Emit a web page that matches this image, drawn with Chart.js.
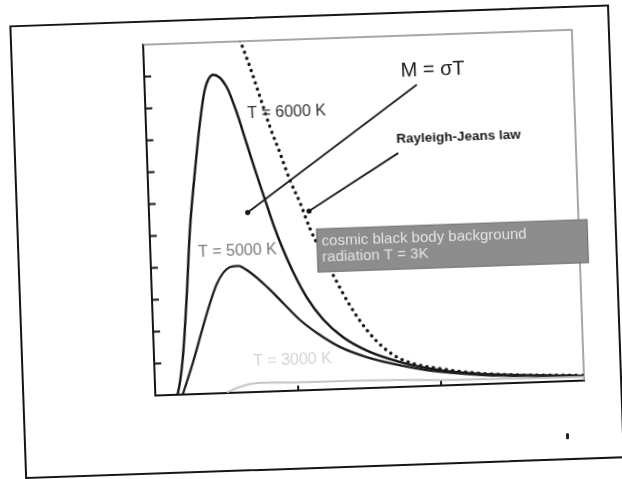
<!DOCTYPE html>
<html>
<head>
<meta charset="utf-8">
<script src="https://cdn.jsdelivr.net/npm/chart.js@4"></script>
<style>
  html, body { margin: 0; padding: 0; background: #fff; overflow: hidden; }
  #sheet { position: absolute; left: 0; top: 0; width: 622px; height: 479px;
           transform: rotate(-2deg); transform-origin: 311px 239.5px; }
  #frame { position: absolute; left: 17px; top: 15px; width: 596px; height: 450px;
           border: 2px solid #151515; }
  #mark { position: absolute; left: 559px; top: 442px; width: 3px; height: 6px;
          background: #222; border-radius: 1px; }
  canvas { position: absolute; left: 0; top: 0; }
</style>
</head>
<body>
<div id="sheet">
  <div id="frame"></div>
  <div id="mark"></div>
  <canvas id="chart" width="622" height="479"></canvas>
</div>
<script>
// wavelength (arbitrary units, 0..3) and spectral exitance (0..11)
const x6000 = [0.15, 0.158, 0.202, 0.243, 0.282, 0.33, 0.378, 0.42, 0.483, 0.573, 0.636, 0.699, 0.762, 0.825, 0.876, 0.927, 0.993, 1.083, 1.191, 1.326, 1.491, 1.719, 1.974, 2.274, 3.0];
const y6000 = [0, 0.05, 1.18, 3.05, 5.15, 6.93, 8.49, 9.52, 9.98, 9.59, 8.80, 7.80, 6.80, 5.85, 5.10, 4.45, 3.72, 2.90, 2.20, 1.62, 1.17, 0.78, 0.50, 0.32, 0.15];

const x5000 = [0.192, 0.27, 0.381, 0.459, 0.552, 0.609, 0.69, 0.807, 0.915, 1.029, 1.146, 1.302, 1.488, 1.719, 1.98, 2.28, 3.0];
const y5000 = [0, 0.98, 2.53, 3.45, 3.94, 3.97, 3.76, 3.28, 2.76, 2.21, 1.78, 1.32, 0.97, 0.68, 0.44, 0.29, 0.14];

const x3000 = [0.5, 0.594, 0.735, 1.014, 1.713, 1.944, 3.0];
const y3000 = [0.02, 0.18, 0.28, 0.26, 0.22, 0.18, 0.12];

const xRJ = [0.678, 0.741, 0.804, 0.867, 0.93, 0.993, 1.059, 1.122, 1.206, 1.272, 1.383, 1.494, 1.602, 1.698, 1.809, 1.974, 2.274, 3.0];
const yRJ = [11.04, 10.19, 9.24, 8.28, 7.46, 6.60, 5.87, 5.05, 4.22, 3.58, 2.60, 1.82, 1.27, 0.94, 0.72, 0.55, 0.34, 0.16];

const xTicks = [1, 2];
const yTicks = [1, 2, 3, 4, 5, 6, 7, 8, 9, 10];

const labels = ['M = σT', 'T = 6000 K', 'Rayleigh-Jeans law', 'T = 5000 K', 'T = 3000 K'];
const boxLines = ['cosmic black body background', 'radiation T = 3K'];

function pts(xs, ys) {
  return xs.map((x, i) => ({ x: x, y: ys[i] }));
}

const FONT = '"Liberation Sans", Arial, sans-serif';

// annotations, placed in data units
const notes = [
  { text: labels[0], x: 2.017, y: 9.88, size: 20, weight: '', color: '#1a1a1a' },
  { text: labels[1], x: 0.987, y: 8.72, size: 16, weight: '', color: '#333' },
  { text: labels[2], x: 2.182, y: 7.755, size: 13.5, weight: 'bold ', color: '#1a1a1a' },
  { text: labels[3], x: 0.609, y: 4.44, size: 16, weight: '', color: '#7a7a7a' },
  { text: labels[4], x: 0.967, y: 0.96, size: 16, weight: '', color: '#d4d4d4' }
];
const leaders = [
  { x0: 1.903, y0: 9.45, x1: 0.690, y1: 5.63 },
  { x0: 1.757, y0: 7.33, x1: 1.119, y1: 5.61 }
];
const box = { x0: 1.167, x1: 3.06, y0: 3.69, y1: 5.04, textX: 1.20, lineY: [4.65, 4.15] };

const decor = {
  id: 'decor',
  beforeDatasetsDraw(chart) {
    const { ctx, chartArea: a, scales: { x, y } } = chart;
    ctx.save();
    // light top/right frame of the plot
    ctx.strokeStyle = '#8a8a8a';
    ctx.lineWidth = 1.5;
    ctx.beginPath();
    ctx.moveTo(a.left, a.top);
    ctx.lineTo(a.right, a.top);
    ctx.lineTo(a.right, a.bottom);
    ctx.stroke();
    // inward tick marks
    ctx.strokeStyle = '#151515';
    ctx.lineWidth = 2;
    yTicks.forEach(v => {
      const py = y.getPixelForValue(v);
      ctx.beginPath();
      ctx.moveTo(a.left, py);
      ctx.lineTo(a.left + 7, py);
      ctx.stroke();
    });
    xTicks.forEach(v => {
      const px = x.getPixelForValue(v);
      ctx.beginPath();
      ctx.moveTo(px, a.bottom);
      ctx.lineTo(px, a.bottom - 5);
      ctx.stroke();
    });
    ctx.restore();
  },
  afterDraw(chart) {
    const { ctx, scales: { x, y } } = chart;
    ctx.save();
    // grey box
    const bx = x.getPixelForValue(box.x0), bx2 = x.getPixelForValue(box.x1);
    const by = y.getPixelForValue(box.y1), by2 = y.getPixelForValue(box.y0);
    ctx.fillStyle = '#8d8d8d';
    ctx.fillRect(bx, by, bx2 - bx, by2 - by);
    ctx.strokeStyle = '#6a6a6a';
    ctx.lineWidth = 1;
    ctx.strokeRect(bx, by, bx2 - bx, by2 - by);
    ctx.fillStyle = '#e2e2e2';
    ctx.font = '15px ' + FONT;
    ctx.textAlign = 'left';
    ctx.textBaseline = 'middle';
    boxLines.forEach((t, i) => {
      ctx.fillText(t, x.getPixelForValue(box.textX), y.getPixelForValue(box.lineY[i]));
    });
    // leader lines
    ctx.strokeStyle = '#1a1a1a';
    ctx.fillStyle = '#1a1a1a';
    ctx.lineWidth = 1.8;
    leaders.forEach(l => {
      const p0x = x.getPixelForValue(l.x0), p0y = y.getPixelForValue(l.y0);
      const p1x = x.getPixelForValue(l.x1), p1y = y.getPixelForValue(l.y1);
      ctx.beginPath();
      ctx.moveTo(p0x, p0y);
      ctx.lineTo(p1x, p1y);
      ctx.stroke();
      ctx.beginPath();
      ctx.arc(p1x, p1y, 2.6, 0, Math.PI * 2);
      ctx.fill();
    });
    // labels
    ctx.textAlign = 'center';
    notes.forEach(n => {
      ctx.font = n.weight + n.size + 'px ' + FONT;
      ctx.fillStyle = n.color;
      ctx.fillText(n.text, x.getPixelForValue(n.x), y.getPixelForValue(n.y));
    });
    ctx.restore();
  }
};

new Chart(document.getElementById('chart'), {
  type: 'line',
  data: {
    datasets: [
      { label: 'T = 3000 K', data: pts(x3000, y3000), borderColor: '#c4c4c4', borderWidth: 2 },
      { label: 'T = 5000 K', data: pts(x5000, y5000), borderColor: '#1e1e1e', borderWidth: 2.3 },
      { label: 'T = 6000 K', data: pts(x6000, y6000), borderColor: '#151515', borderWidth: 2.4 },
      { label: 'Rayleigh-Jeans law', data: pts(xRJ, yRJ), borderColor: '#151515', borderWidth: 3.3,
        borderDash: [0.1, 6.4], borderCapStyle: 'round' }
    ]
  },
  options: {
    responsive: false,
    animation: false,
    layout: { padding: { left: 150, top: 39, right: 43, bottom: 89 } },
    elements: {
      point: { radius: 0 },
      line: { cubicInterpolationMode: 'monotone', fill: false }
    },
    plugins: { legend: { display: false }, tooltip: { enabled: false } },
    scales: {
      x: { type: 'linear', min: 0, max: 3,
           ticks: { display: false }, grid: { display: false, drawTicks: false },
           border: { color: '#151515', width: 2 } },
      y: { type: 'linear', min: 0, max: 11,
           ticks: { display: false }, grid: { display: false, drawTicks: false },
           border: { color: '#151515', width: 2 } }
    }
  },
  plugins: [decor]
});
</script>
</body>
</html>
